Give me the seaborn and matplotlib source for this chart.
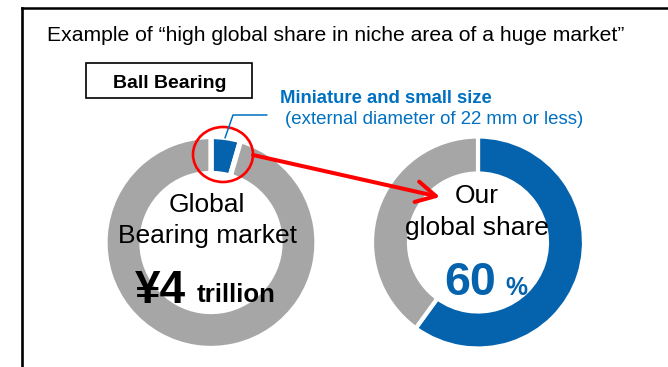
import matplotlib
matplotlib.use("Agg")
import matplotlib.pyplot as plt
from matplotlib.patches import Rectangle, Ellipse
import seaborn as sns

# --- data ---------------------------------------------------------------
market_segments = ["Miniature and small size", "Other ball bearings"]
market_share = [4.5, 95.5]          # % of the global bearing market
our_segments = ["Our share", "Others"]
our_share = [60, 40]                # % of the miniature / small-size segment

title_text = "Example of \u201chigh global share in niche area of a huge market\u201d"
product_label = "Ball Bearing"
niche_label = "Miniature and small size"
niche_note = "(external diameter of 22 mm or less)"
market_label = ["Global", "Bearing market"]
market_value = "\u00a54"
market_unit = "trillion"
share_label = ["Our", "global share"]
share_value = "60"
share_unit = "%"

# --- style --------------------------------------------------------------
sns.set_theme(style="white")
plt.rcParams["font.family"] = ["Liberation Sans", "DejaVu Sans"]

palette = sns.color_palette(["#0563AD", "#A6A6A6"])
BLUE, GREY = palette[0], palette[1]
TEXT_BLUE = "#0070C0"
RED = "#FF0000"

W, H = 668, 367
fig = plt.figure(figsize=(W / 100, H / 100), dpi=100)
ax = fig.add_axes([0, 0, 1, 1])


def Y(py):
    """Convert a top-down pixel row into the bottom-up data coordinate."""
    return H - py


# --- doughnuts ----------------------------------------------------------
R_OUT, R_IN = 106, 69
left_c = (211, Y(242.5))
right_c = (478, Y(242.5))

ax.pie(market_share, colors=[BLUE, GREY], startangle=90, counterclock=False,
       radius=R_OUT, center=left_c, frame=True,
       wedgeprops=dict(width=R_OUT - R_IN, edgecolor="white", linewidth=3.8))
ax.pie(our_share, colors=[BLUE, GREY], startangle=90, counterclock=False,
       radius=R_OUT, center=right_c, frame=True,
       wedgeprops=dict(width=R_OUT - R_IN, edgecolor="white", linewidth=3.0))

# --- outer frame (open to the right and bottom) -------------------------
ax.plot([22, W + 5], [Y(7.5), Y(7.5)], color="black", lw=1.8,
        solid_capstyle="projecting")
ax.plot([22, 22], [Y(7.5), -5], color="black", lw=1.9,
        solid_capstyle="projecting")

# --- heading ------------------------------------------------------------
ax.text(47, Y(41), title_text, fontsize=15.2, color="black",
        ha="left", va="baseline")

ax.add_patch(Rectangle((86, Y(97.5)), 166, 35, fill=False,
                       edgecolor="black", lw=1.2))
ax.text(169.5, Y(88.3), product_label, fontsize=14, fontweight="bold",
        ha="center", va="baseline", color="black")

# --- niche callout ------------------------------------------------------
ax.text(280, Y(102.7), niche_label, fontsize=13.3, fontweight="bold",
        ha="left", va="baseline", color=TEXT_BLUE)
ax.text(285, Y(124.5), niche_note, fontsize=13.4,
        ha="left", va="baseline", color=TEXT_BLUE)
ax.plot([225, 233, 267], [Y(138), Y(115), Y(115)], color=TEXT_BLUE, lw=1.1)

ax.add_patch(Ellipse((223, Y(154.5)), 60, 55, fill=False,
                     edgecolor=RED, lw=1.9))
ax.annotate("", xy=(440, Y(197)), xytext=(253, Y(155)),
            arrowprops=dict(arrowstyle="->,head_length=1.4,head_width=0.75",
                            color=RED, lw=2.9, shrinkA=0, shrinkB=0,
                            mutation_scale=10))

# --- labels inside the doughnuts ---------------------------------------
ax.text(206.7, Y(211.7), market_label[0], fontsize=19, ha="center",
        va="baseline", color="black")
ax.text(207, Y(243.3), market_label[1], fontsize=19, ha="center",
        va="baseline", color="black")
ax.text(135, Y(302.7), market_value, fontsize=33, fontweight="bold",
        ha="left", va="baseline", color="black")
ax.text(197, Y(301.7), market_unit, fontsize=18.6, fontweight="bold",
        ha="left", va="baseline", color="black")

ax.text(476.7, Y(203.3), share_label[0], fontsize=19, ha="center",
        va="baseline", color="black")
ax.text(477, Y(235), share_label[1], fontsize=19, ha="center",
        va="baseline", color="black")
ax.text(444, Y(295), share_value, fontsize=33.5, fontweight="bold",
        ha="left", va="baseline", color=BLUE)
ax.text(505, Y(295), share_unit, fontsize=17.8, fontweight="bold",
        ha="left", va="baseline", color=BLUE)

ax.set_xlim(0, W)
ax.set_ylim(0, H)
ax.set_aspect("equal")
ax.axis("off")

fig.savefig("out.png", dpi=100, facecolor="white")
